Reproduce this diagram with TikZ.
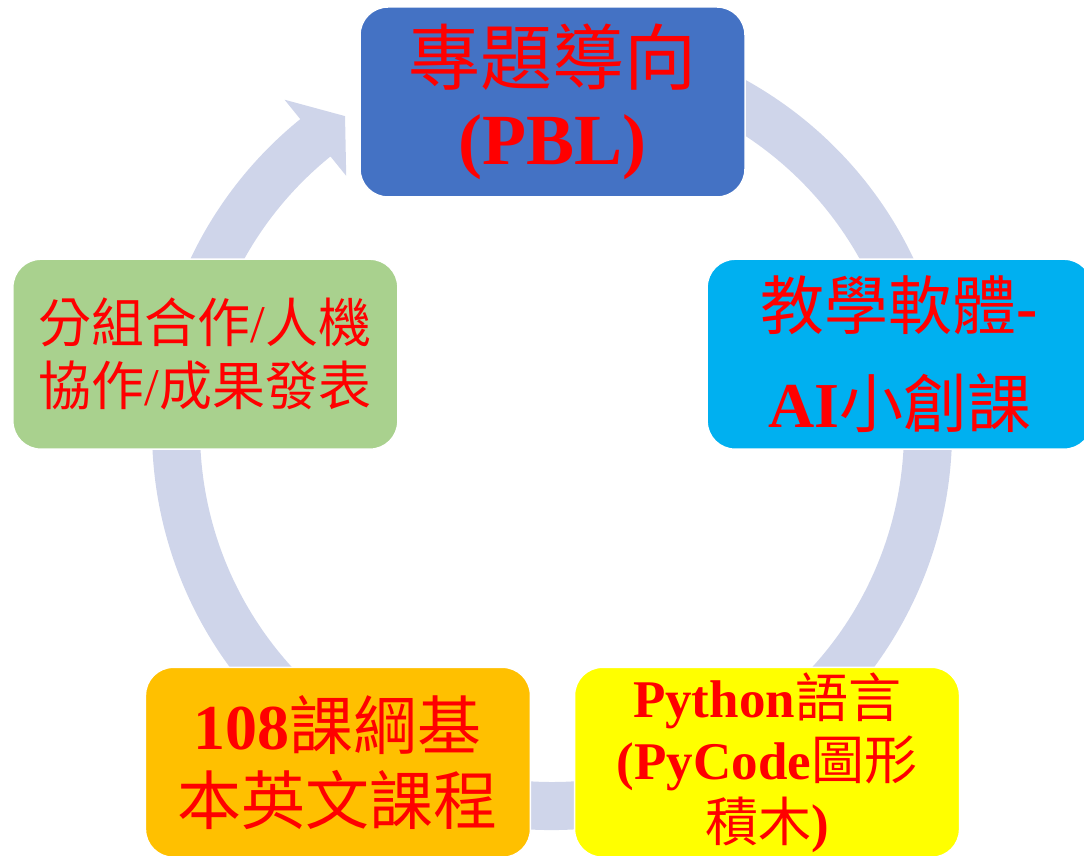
\documentclass[tikz,border=0pt]{standalone}
\usepackage{fontspec}
\setmainfont{Liberation Serif}
\newfontfamily\cjk{Noto Sans CJK TC}
\usetikzlibrary{calc}
\definecolor{ringfill}{RGB}{207, 213, 234}
\definecolor{pblfill}{RGB}{68, 114, 196}
\definecolor{softfill}{RGB}{0, 176, 240}
\definecolor{pyfill}{RGB}{255, 255, 0}
\definecolor{basefill}{RGB}{255, 192, 0}
\definecolor{teamfill}{RGB}{169, 209, 142}
\newcommand{\zh}[1]{{\cjk\mdseries #1}}
\tikzset{
    stepbox/.style={draw=white, line width=1.5pt, rounded corners=28pt,
        minimum width=385pt, minimum height=190pt, text=red, align=center,
        inner sep=0pt},
}

\begin{document}
\begin{tikzpicture}[x=1pt, y=1pt]
        \useasboundingbox (0, 0) rectangle (1084, 855);
        \clip (0, 0) rectangle (1084, 855);
        \coordinate (cpos) at (552.5, 388);
        \coordinate (rpos) at (552, 425);
        \fill[ringfill] ($(rpos)+(100:400)$)
            arc[start angle=100, end angle=-231, radius=400pt]
            -- ($(rpos)+(-231:425)$) -- ($(rpos)+(-236.6:376)$)
            -- ($(rpos)+(-231:327)$) -- ($(rpos)+(-231:352)$)
            arc[start angle=-231, end angle=100, radius=352pt] -- cycle;
        \node[stepbox, fill=pblfill, font=\fontsize{72}{80}\selectfont\bfseries]
            (pbl) at ($(cpos)+(90:365)$) {\zh{專題導向}\\(PBL)};
        \node[stepbox, fill=softfill, font=\fontsize{64}{98}\selectfont\bfseries]
            (soft) at ($(cpos)+(18:365)$) {\zh{教學軟體}-\\AI\zh{小創課}};
        \node[stepbox, fill=pyfill, font=\fontsize{53}{62}\selectfont\bfseries]
            (py) at ($(cpos)+(-54:365)$)
            {Python\zh{語言}\\(PyCode\zh{圖形}\\\zh{積木})};
        \node[stepbox, fill=basefill, font=\fontsize{64}{75}\selectfont\bfseries]
            (base) at ($(cpos)+(234:365)$) {108\zh{課綱基}\\\zh{本英文課程}};
        \node[stepbox, fill=teamfill, font=\fontsize{53}{63}\selectfont]
            (team) at ($(cpos)+(162:365)$)
            {\zh{分組合作}/\zh{人機}\\\zh{協作}/\zh{成果發表}};
    \end{tikzpicture}
\end{document}
